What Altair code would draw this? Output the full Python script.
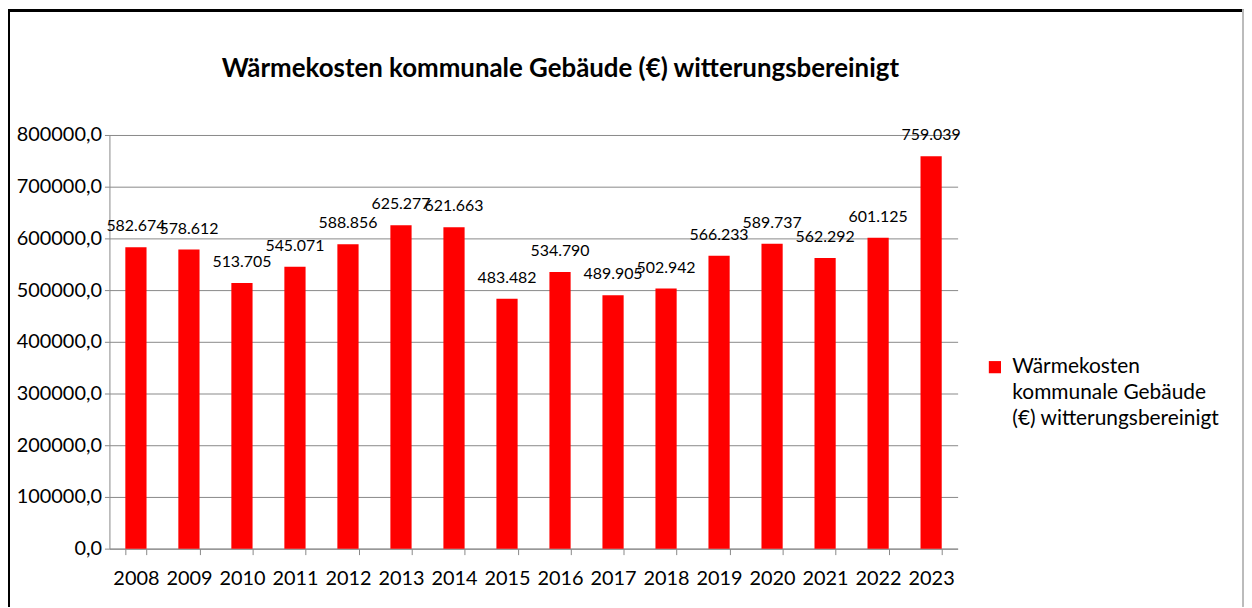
import altair as alt
import pandas as pd

years = ["2008", "2009", "2010", "2011", "2012", "2013", "2014", "2015",
         "2016", "2017", "2018", "2019", "2020", "2021", "2022", "2023"]
costs = [582674, 578612, 513705, 545071, 588856, 625277, 621663, 483482,
         534790, 489905, 502942, 566233, 589737, 562292, 601125, 759039]
series_name = "Wärmekosten kommunale Gebäude (€) witterungsbereinigt"
y_ticks = [0, 100000, 200000, 300000, 400000, 500000, 600000, 700000, 800000]

df = pd.DataFrame({"Jahr": years, "Kosten": costs, "Serie": series_name})

FONT = "Lato"
W, H = 853, 416
PAD = {"left": 102, "top": 126, "right": 288, "bottom": 58}

base = alt.Chart(df)

bars = base.mark_bar(color="#ff0000").encode(
    x=alt.X("Jahr:N", sort=years,
            scale=alt.Scale(paddingInner=0.6, paddingOuter=0.3),
            axis=alt.Axis(title=None, labelAngle=0, labelFontSize=20,
                          labelPadding=14, tickBand="extent", tickSize=6,
                          tickColor="#888888", domainColor="#888888",
                          labelColor="#000000", labelFont=FONT, grid=False)),
    y=alt.Y("Kosten:Q", scale=alt.Scale(domain=[0, 800000], nice=False),
            axis=alt.Axis(title=None, values=y_ticks,
                          labelExpr="replace(format(datum.value, '.1f'), '.', ',')",
                          labelFontSize=20, labelFont=FONT, labelColor="#000000",
                          tickSize=5, tickColor="#888888", domainColor="#888888",
                          gridColor="#888888", gridWidth=1, labelPadding=3)),
    color=alt.Color("Serie:N", scale=alt.Scale(range=["#ff0000"]),
                    legend=alt.Legend(title=None, orient="none",
                                      legendX=880, legendY=223,
                                      symbolType="square", symbolSize=150,
                                      symbolStrokeWidth=0, labelOffset=7,
                                      labelFontSize=21, labelFont=FONT,
                                      labelColor="#000000", labelLimit=400,
                                      labelExpr="['Wärmekosten', 'kommunale Gebäude', '(€) witterungsbereinigt']")),
)

labels = base.transform_calculate(
    lab="replace(format(datum.Kosten, ',.0f'), ',', '.')"
).mark_text(dy=-21, fontSize=16, font=FONT, color="#000000", baseline="middle").encode(
    x=alt.X("Jahr:N", sort=years),
    y=alt.Y("Kosten:Q"),
    text="lab:N",
)

frame_top = alt.Chart(df).mark_rule(color="#000000", strokeWidth=2, clip=False).encode(
    x=alt.value(-PAD["left"]), x2=alt.value(W + PAD["right"]), y=alt.value(-PAD["top"] + 1))
frame_left = alt.Chart(df).mark_rule(color="#000000", strokeWidth=2, clip=False).encode(
    x=alt.value(-PAD["left"] + 1), y=alt.value(-PAD["top"]), y2=alt.value(H + PAD["bottom"]))
frame_right = alt.Chart(df).mark_rule(color="#bbbbbb", strokeWidth=1, clip=False).encode(
    x=alt.value(W + PAD["right"] - 1), y=alt.value(-PAD["top"]), y2=alt.value(H + PAD["bottom"]))

chart = alt.layer(bars, labels, frame_top, frame_left, frame_right).properties(
    width=W, height=H,
    title=alt.TitleParams(series_name, fontSize=26, font=FONT, fontWeight="bold",
                          anchor="middle", dx=27, offset=-87, baseline="middle",
                          color="#000000"),
    autosize=alt.AutoSizeParams(type="none"),
    padding=PAD,
).configure(background="#ffffff",
            style={"guide-label": {"lineHeight": 26}}
).configure_view(strokeWidth=0)

chart.save("out.html", embed_options={"renderer": "svg", "actions": False})
